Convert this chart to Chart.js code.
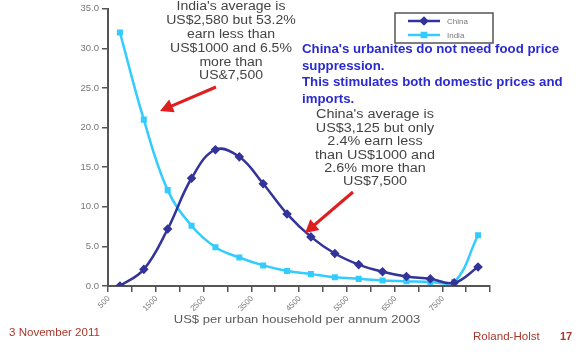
<!DOCTYPE html>
<html>
<head>
<meta charset="utf-8">
<script src="https://cdn.jsdelivr.net/npm/chart.js@4.4.0/dist/chart.umd.min.js"></script>
<style>
  body { margin: 0; background: #fff; }
  #wrap { width: 581px; height: 360px; position: relative; }
</style>
</head>
<body>
<div id="wrap"><canvas id="incomeChart"></canvas></div>
<script>
// income brackets (US$ per urban household per annum, 2003)
var incomeLabels = ['500', '1000', '1500', '2000', '2500', '3000', '3500', '4000',
                    '4500', '5000', '5500', '6000', '6500', '7000', '7500', '8000'];
// share of urban households in each bracket (%)
var chinaShare = [0.0, 2.1, 7.2, 13.6, 17.2, 16.3, 12.9, 9.1, 6.2, 4.1, 2.7, 1.8, 1.2, 0.9, 0.4, 2.4];
var indiaShare = [32.0, 21.0, 12.1, 7.6, 4.9, 3.6, 2.6, 1.9, 1.5, 1.1, 0.9, 0.7, 0.6, 0.5, 0.5, 6.4];

var axisTitle = 'US$ per urban household per annum 2003';
var indiaNote = ["India's average is", 'US$2,580 but 53.2%', 'earn less than',
                 'US$1000 and 6.5%', 'more than', 'US&7,500'];
var chinaNote = ["China's average is", 'US$3,125 but only', '2.4% earn less',
                 'than US$1000 and', '2.6% more than', 'US$7,500'];
var blueNote = ["China's urbanites do not need food price", 'suppression.',
                'This stimulates both domestic prices and', 'imports.'];

var CHINA_COL = '#333399';
var INDIA_COL = '#33ccff';
var RED = '#dd1f1f';

function arrow(ctx, x1, y1, x2, y2) {
    var ang = Math.atan2(y2 - y1, x2 - x1);
    var hl = 13, hw = 7;
    ctx.save();
    ctx.strokeStyle = RED;
    ctx.fillStyle = RED;
    ctx.lineWidth = 3;
    ctx.beginPath();
    ctx.moveTo(x1, y1);
    ctx.lineTo(x2 - Math.cos(ang) * hl * 0.8, y2 - Math.sin(ang) * hl * 0.8);
    ctx.stroke();
    ctx.beginPath();
    ctx.moveTo(x2, y2);
    ctx.lineTo(x2 - Math.cos(ang) * hl + Math.sin(ang) * hw, y2 - Math.sin(ang) * hl - Math.cos(ang) * hw);
    ctx.lineTo(x2 - Math.cos(ang) * hl - Math.sin(ang) * hw, y2 - Math.sin(ang) * hl + Math.cos(ang) * hw);
    ctx.closePath();
    ctx.fill();
    ctx.restore();
}

// the slide text is stretched sideways, so draw it with a horizontal scale
function wideText(ctx, str, x, y, sx) {
    ctx.save();
    ctx.translate(x, y);
    ctx.scale(sx, 1);
    ctx.fillText(str, 0, 0);
    ctx.restore();
}

function textBlock(ctx, lines, x, y, step, sx) {
    for (var i = 0; i < lines.length; i++) {
        wideText(ctx, lines[i], x, y + i * step, sx);
    }
}

// annotations, legend box and footer text
var notesPlugin = {
    id: 'notes',
    afterDraw: function(chart) {
        var ctx = chart.ctx;
        ctx.save();
        ctx.textBaseline = 'middle';

        // x axis title
        ctx.fillStyle = '#5a5a5a';
        ctx.font = '11.5px "Liberation Sans", Arial, sans-serif';
        ctx.textAlign = 'center';
        wideText(ctx, axisTitle, 297, 320, 1.13);

        // grey notes
        ctx.fillStyle = '#444';
        ctx.font = '12px "Liberation Sans", Arial, sans-serif';
        textBlock(ctx, indiaNote, 231, 7, 13.8, 1.17);
        textBlock(ctx, chinaNote, 375, 115, 13.4, 1.2);

        // blue note
        ctx.fillStyle = '#2a2ad0';
        ctx.font = 'bold 12.5px "Liberation Sans", Arial, sans-serif';
        ctx.textAlign = 'left';
        textBlock(ctx, blueNote, 302, 50, 16.4, 1.06);

        arrow(ctx, 216, 87, 160, 111);
        arrow(ctx, 353, 192, 305, 233);

        // legend
        ctx.fillStyle = '#fff';
        ctx.fillRect(395, 13, 98, 30);
        ctx.strokeStyle = '#555';
        ctx.lineWidth = 1.5;
        ctx.strokeRect(395, 13, 98, 30);
        var ds = chart.data.datasets;
        var rows = [21, 35];
        for (var i = 0; i < ds.length; i++) {
            var y = rows[i];
            ctx.strokeStyle = ds[i].borderColor;
            ctx.lineWidth = 2.5;
            ctx.beginPath();
            ctx.moveTo(408, y);
            ctx.lineTo(440, y);
            ctx.stroke();
            ctx.fillStyle = ds[i].borderColor;
            Chart.helpers.drawPoint(ctx, {pointStyle: ds[i].pointStyle, radius: 3, borderWidth: 1},
                                    424, y);
            ctx.fillStyle = '#777';
            ctx.font = '8px "Liberation Sans", Arial, sans-serif';
            ctx.fillText(ds[i].label, 447, y + 1);
        }

        // footer
        ctx.fillStyle = '#a8382c';
        ctx.font = '11px "Liberation Sans", Arial, sans-serif';
        wideText(ctx, '3 November 2011', 9, 333, 1.05);
        wideText(ctx, 'Roland-Holst', 473, 337, 1.05);
        ctx.font = 'bold 11px "Liberation Sans", Arial, sans-serif';
        ctx.fillText('17', 560, 337);
        ctx.restore();
    }
};

var ctx = document.getElementById('incomeChart');
var chart = new Chart(ctx, {
    type: 'line',
    data: {
        labels: incomeLabels,
        datasets: [{
            label: 'China',
            data: chinaShare,
            borderColor: CHINA_COL,
            backgroundColor: CHINA_COL,
            borderWidth: 2.5,
            pointStyle: 'rectRot',
            pointRadius: 3,
            tension: 0.4
        }, {
            label: 'India',
            data: indiaShare,
            borderColor: INDIA_COL,
            backgroundColor: INDIA_COL,
            borderWidth: 2.5,
            pointStyle: 'rect',
            pointRadius: 2.5,
            tension: 0.4
        }]
    },
    options: {
        responsive: true,
        maintainAspectRatio: false,
        animation: false,
        layout: { padding: { top: 6, right: 91, bottom: 0, left: 0 } },
        plugins: {
            legend: { display: false },
            tooltip: { enabled: false }
        },
        scales: {
            x: {
                offset: true,
                afterFit: function(s) { s.height = 74; },
                grid: { display: true, drawOnChartArea: false, offset: true, tickLength: 6, color: '#555', lineWidth: 1.5 },
                border: { display: true, color: '#555', width: 2 },
                ticks: {
                    autoSkip: false,
                    minRotation: 45,
                    maxRotation: 45,
                    labelOffset: -11,
                    padding: 2,
                    color: '#777',
                    font: { size: 8, family: '"Liberation Sans", Arial, sans-serif' },
                    callback: function(v, i) { return i % 2 === 0 ? this.getLabelForValue(v) : ''; }
                }
            },
            y: {
                min: 0,
                max: 35,
                afterFit: function(s) { s.width = 108; },
                grid: { display: true, drawOnChartArea: false, tickLength: 6, color: '#555', lineWidth: 1.5 },
                border: { display: true, color: '#555', width: 2 },
                ticks: {
                    stepSize: 5,
                    padding: 3,
                    color: '#777',
                    font: { size: 9.5, family: '"Liberation Sans", Arial, sans-serif' },
                    callback: function(v) { return v.toFixed(1); }
                }
            }
        }
    },
    plugins: [notesPlugin]
});
</script>
</body>
</html>
